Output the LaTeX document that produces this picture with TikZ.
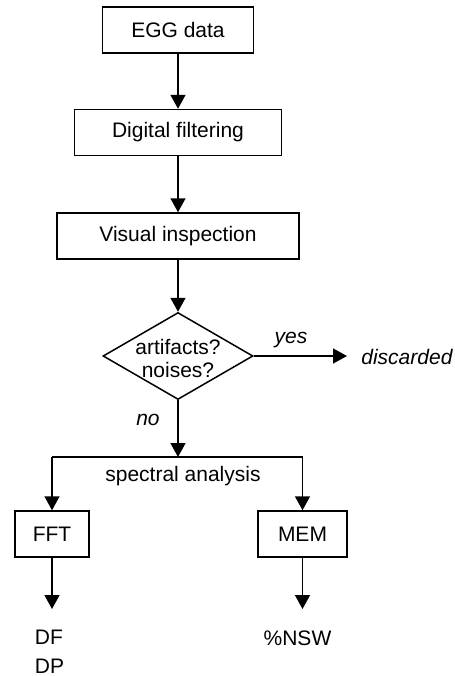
\documentclass[tikz,border=0pt]{standalone}
\usepackage{fontspec}
\setmainfont{Liberation Sans}
\usetikzlibrary{arrows.meta}
\usetikzlibrary{shapes.geometric}

\tikzset{
  procbox/.style={draw, line width=0.75pt, minimum height=23pt, inner sep=0pt,
    font=\fontsize{10.5}{13}\selectfont},
  decision/.style={draw, diamond, line width=0.75pt, minimum width=75pt,
    minimum height=43.5pt, inner sep=0pt},
  plain/.style={inner sep=0pt, font=\fontsize{10.5}{13}\selectfont},
  arr/.style={line width=0.75pt, -{Triangle[length=7pt,width=7.5pt]}}
}

\begin{document}
\begin{tikzpicture}[x=0.5pt,y=0.5pt,yscale=-1,xscale=1]
%set diagram to the size of the original, 455 by 676
\useasboundingbox (0,0) rectangle (455,676);

%Boxes down the main line
\node[procbox, minimum width=75.5pt] (egg) at (178,30) {EGG data};
\node[procbox, minimum width=103.5pt] (filt) at (178,132.5) {Digital filtering};
\node[procbox, minimum width=121pt] (visual) at (178,236) {Visual inspection};

%Decision
\node[decision] (dec) at (178,356) {};
\node[plain, align=center, font=\fontsize{10.5}{11.5}\selectfont] (dectext) at (178,358) {artifacts?\\noises?};

%yes branch
\node[plain, anchor=west] (disc) at (361,357) {\itshape discarded};
\node[plain] (yes) at (291,340) {\itshape yes};
\coordinate (disctip) at (347,356);

%no branch
\node[plain] (no) at (148,420) {\itshape no};
\coordinate (split) at (178,457);
\node[plain] (spec) at (183,476) {spectral analysis};

%Methods
\node[procbox, minimum width=37pt] (fft) at (52,534) {FFT};
\node[procbox, minimum width=44.5pt] (mem) at (302.5,534) {MEM};

%Results
\coordinate (ffttip) at (52,609);
\coordinate (memtip) at (302.5,609);
\node[plain, align=left, font=\fontsize{10.5}{14.5}\selectfont] (dfdp) at (49.5,652) {DF\\DP};
\node[plain] (nsw) at (297.5,638) {\%NSW};

%Connectors
\draw[arr] (egg) -- (filt);
\draw[arr] (filt) -- (visual);
\draw[arr] (visual) -- (dec);
\draw[arr] (dec.east) -- (disctip);
\draw[arr] (dec.south) -- (split);
\draw[line width=0.75pt] (fft.north |- split) -- (mem.north |- split);
\draw[arr] (fft.north |- split) -- (fft.north);
\draw[arr] (mem.north |- split) -- (mem.north);
\draw[arr] (fft) -- (ffttip);
\draw[arr] (mem) -- (memtip);

\end{tikzpicture}
\end{document}
